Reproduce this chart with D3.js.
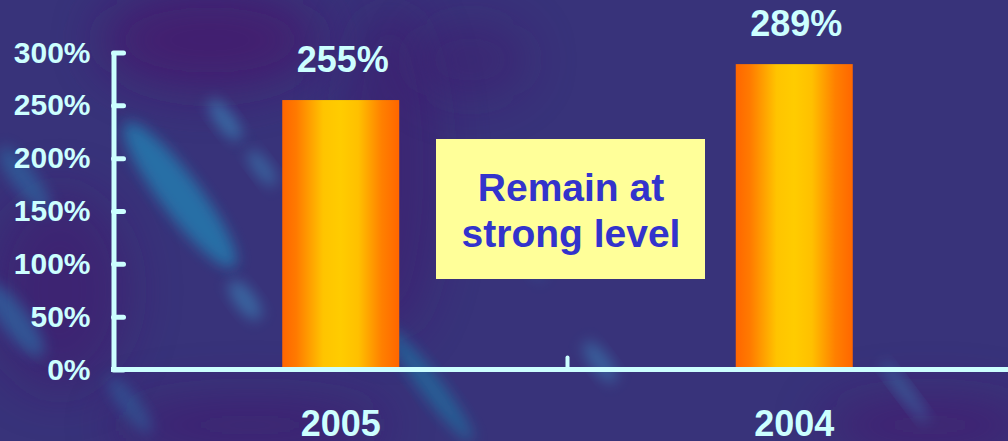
<!DOCTYPE html>
<html>
<head>
<meta charset="utf-8">
<script src="https://cdn.jsdelivr.net/npm/d3@7"></script>
<style>
  html, body { margin: 0; padding: 0; background: #383579; overflow: hidden; }
  svg { display: block; }
  text { font-family: "Liberation Sans", Arial, sans-serif; font-weight: bold; }
</style>
</head>
<body>
<svg id="chart" width="1008" height="441"></svg>
<script>
// ---- data ----
const categories = ["2005", "2004"];
const values = [255, 289];
const valueLabels = ["255%", "289%"];
const yTicks = [0, 50, 100, 150, 200, 250, 300];
const noteLines = ["Remain at", "strong level"];

const W = 1008, H = 441;
const svg = d3.select("#chart");
const defs = svg.append("defs");

// background
svg.append("rect").attr("width", W).attr("height", H).attr("fill", "#38337a");

const blur = defs.append("filter").attr("id", "blur").attr("x", "-50%").attr("y", "-50%").attr("width", "200%").attr("height", "200%");
blur.append("feGaussianBlur").attr("stdDeviation", 7);
const blur2 = defs.append("filter").attr("id", "blur2").attr("x", "-100%").attr("y", "-100%").attr("width", "300%").attr("height", "300%");
blur2.append("feGaussianBlur").attr("stdDeviation", 25);

const deco = svg.append("g");
// darker purple patches
[[210, 40, 110, 50, "#46166c", 0.7], [60, 290, 70, 100, "#43186c", 0.5], [390, 170, 50, 170, "#40196c", 0.45],
 [930, 425, 110, 30, "#46166c", 0.55], [250, 425, 140, 30, "#43186c", 0.55], [470, 60, 60, 40, "#40196c", 0.4]].forEach(d => {
  deco.append("ellipse").attr("cx", d[0]).attr("cy", d[1]).attr("rx", d[2]).attr("ry", d[3])
    .attr("fill", d[4]).attr("opacity", d[5]).attr("filter", "url(#blur2)");
});
// cyan diagonal streaks
[[180, 195, 90, 20, "#2283b5", 0.75], [225, 120, 25, 9, "#3a8fc0", 0.6], [262, 168, 22, 8, "#3a8fc0", 0.5],
 [245, 300, 24, 10, "#3a8fc0", 0.55], [25, 180, 40, 12, "#2a7ab0", 0.5], [15, 320, 45, 14, "#2a7ab0", 0.55],
 [130, 405, 35, 10, "#2a7ab0", 0.4], [430, 385, 70, 11, "#1f7aa8", 0.6], [600, 362, 25, 9, "#3a8fc0", 0.5],
 [905, 392, 38, 6, "#3a8fc0", 0.45], [520, 250, 40, 8, "#2a6aa8", 0.3]].forEach(d => {
  deco.append("ellipse").attr("cx", d[0]).attr("cy", d[1]).attr("rx", d[2]).attr("ry", d[3])
    .attr("transform", `rotate(53 ${d[0]} ${d[1]})`)
    .attr("fill", d[4]).attr("opacity", d[5]).attr("filter", "url(#blur)");
});

// scales
const y = d3.scaleLinear().domain([0, 300]).range([369.5, 52.5]);
const x = d3.scaleBand().domain(categories).range([114, 1021]).padding(0);
const barW = 117;

// bar gradient
const g = defs.append("linearGradient").attr("id", "barGrad").attr("x1", 0).attr("y1", 0).attr("x2", 1).attr("y2", 0);
[[0, "#ff6600"], [0.12, "#ff7a00"], [0.35, "#ffc400"], [0.5, "#ffcc00"], [0.65, "#ffc000"], [0.85, "#ff8000"], [1, "#ff6600"]]
  .forEach(s => g.append("stop").attr("offset", s[0]).attr("stop-color", s[1]));

const axisColor = "#ccffff";

// bars
svg.append("g").selectAll("rect").data(categories).join("rect")
  .attr("x", (d) => x(d) + x.bandwidth() / 2 - barW / 2)
  .attr("y", (d, i) => y(values[i]))
  .attr("width", barW)
  .attr("height", (d, i) => y(0) - y(values[i]))
  .attr("fill", "url(#barGrad)");

// y axis
const yAxis = svg.append("g").attr("transform", "translate(113.5,0)")
  .call(d3.axisLeft(y).tickValues(yTicks).tickFormat(d => d + "%").tickSize(-10).tickSizeOuter(0).tickPadding(23));
yAxis.select(".domain").attr("stroke", axisColor).attr("stroke-width", 5);
yAxis.selectAll(".tick line").attr("stroke", axisColor).attr("stroke-width", 5).attr("stroke-linecap", "round");
yAxis.selectAll(".tick text").attr("fill", axisColor).attr("font-size", 30).attr("font-family", "Liberation Sans, Arial, sans-serif").attr("font-weight", "bold");

// x axis
const xAxis = svg.append("g").attr("transform", `translate(0,${y(0)})`)
  .call(d3.axisBottom(x).tickSize(0).tickSizeOuter(0).tickPadding(41));
xAxis.select(".domain").attr("stroke", axisColor).attr("stroke-width", 5).attr("d", `M111,0H${W + 5}`);
xAxis.selectAll(".tick text").attr("fill", axisColor).attr("font-size", 36).attr("font-family", "Liberation Sans, Arial, sans-serif").attr("font-weight", "bold");
// separator tick between categories
xAxis.append("line").attr("x1", x(categories[1])).attr("x2", x(categories[1]))
  .attr("y1", 0).attr("y2", -12).attr("stroke", axisColor).attr("stroke-width", 4).attr("stroke-linecap", "round");

// value labels
svg.append("g").selectAll("text").data(categories).join("text")
  .attr("x", (d) => x(d) + x.bandwidth() / 2 + 2)
  .attr("y", (d, i) => y(values[i]) - 28)
  .attr("text-anchor", "middle")
  .attr("fill", axisColor).attr("font-size", 36)
  .text((d, i) => valueLabels[i]);

// note box
const note = svg.append("g");
note.append("rect").attr("x", 436).attr("y", 139).attr("width", 269).attr("height", 140).attr("fill", "#ffff99");
note.selectAll("text").data(noteLines).join("text")
  .attr("x", 571).attr("y", (d, i) => 201 + i * 46)
  .attr("text-anchor", "middle").attr("fill", "#3333cc").attr("font-size", 39)
  .text(d => d);
</script>
</body>
</html>
